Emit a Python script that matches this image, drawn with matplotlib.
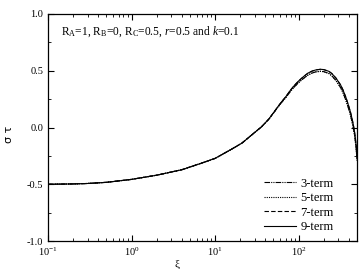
import matplotlib
matplotlib.use("Agg")
import matplotlib.pyplot as plt
from matplotlib.ticker import LogLocator, MultipleLocator, NullFormatter

plt.rcParams["font.family"] = ["Liberation Serif", "DejaVu Serif"]
plt.rcParams["mathtext.fontset"] = "custom"
plt.rcParams["mathtext.rm"] = "Liberation Serif"
plt.rcParams["mathtext.it"] = "Liberation Serif:italic"

# values
xi = [0.1, 0.2, 0.3, 0.5, 1, 2, 4, 7, 10, 15, 21, 28, 36, 44, 50, 56, 63, 70,
      80, 90, 100, 115, 130, 145, 160, 183, 200, 230, 250, 280, 318, 340, 370,
      395, 417, 435, 450, 465, 477, 490, 500]
sig_9 = [-0.500, -0.497, -0.493, -0.483, -0.457, -0.420, -0.372, -0.312, -0.272,
         -0.200, -0.137, -0.060, 0.007, 0.075, 0.130, 0.180, 0.230, 0.270,
         0.330, 0.375, 0.410, 0.450, 0.480, 0.497, 0.507, 0.513, 0.510, 0.495,
         0.475, 0.435, 0.375, 0.330, 0.260, 0.195, 0.137, 0.080, 0.030, -0.030,
         -0.090, -0.170, -0.270]
sig_7 = sig_9
sig_5 = [-0.500, -0.497, -0.493, -0.483, -0.457, -0.420, -0.372, -0.312, -0.272,
         -0.200, -0.137, -0.060, 0.006, 0.073, 0.127, 0.176, 0.224, 0.262,
         0.320, 0.362, 0.396, 0.434, 0.463, 0.480, 0.490, 0.495, 0.492, 0.476,
         0.455, 0.413, 0.352, 0.306, 0.235, 0.170, 0.110, 0.052, 0.000, -0.060,
         -0.120, -0.200, -0.290]
sig_3 = sig_5

series = [("3-term", sig_3, (0, (5, 1, 1, 1, 1, 1))),
          ("5-term", sig_5, (0, (1, 1))),
          ("7-term", sig_7, (0, (4, 2))),
          ("9-term", sig_9, "-")]

fig = plt.figure(figsize=(3.61, 2.69), dpi=100)
ax = fig.add_axes([0.133, 0.104, 0.856, 0.844])

for name, ys, ls in series:
    ax.plot(xi, ys, color="black", lw=0.8, linestyle=ls, label=name)

ax.set_xscale("log")
ax.set_xlim(0.1, 500)
ax.set_ylim(-1.0, 1.0)
ax.xaxis.set_major_locator(LogLocator(base=10, numticks=10))
ax.xaxis.set_minor_locator(LogLocator(base=10, subs=range(2, 10), numticks=20))
ax.xaxis.set_minor_formatter(NullFormatter())
ax.yaxis.set_major_locator(MultipleLocator(0.5))
ax.yaxis.set_minor_locator(MultipleLocator(0.25))
ax.yaxis.set_major_formatter(plt.FuncFormatter(lambda v, p: "%.1f" % v))
ax.tick_params(which="both", direction="in", top=True, right=True, labelsize=7.5)
ax.tick_params(which="major", length=4, width=0.8)
ax.tick_params(which="minor", length=2.5, width=0.6)
for s in ax.spines.values():
    s.set_linewidth(0.9)

ax.text(0.1 * 1.45, 0.82,
        r"R$_\mathrm{A}$=1, R$_\mathrm{B}$=0, R$_\mathrm{C}$=0.5, $r$=0.5 and $k$=0.1",
        fontsize=8.3)

leg = ax.legend(loc="lower right", bbox_to_anchor=(0.96, -0.015), frameon=False,
                fontsize=9, handlelength=2.6, handletextpad=0.3, labelspacing=0.2)

fig.text(0.025, 0.5, "σ τ", rotation=90, va="center", ha="center", fontsize=8,
         family=["DejaVu Sans"])
fig.text(0.49, 0.0, "ξ", ha="center", va="bottom", fontsize=8)

fig.savefig("out.png", dpi=100)
